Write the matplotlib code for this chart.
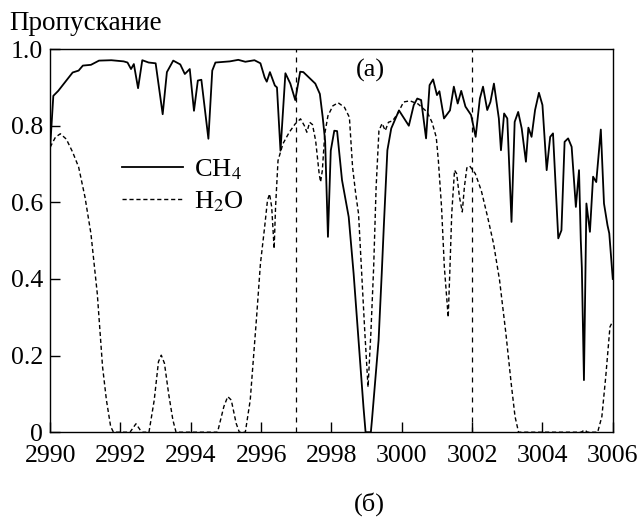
import matplotlib
matplotlib.use("Agg")
import matplotlib.pyplot as plt

plt.rcParams['font.family'] = ['Liberation Serif', 'DejaVu Serif']
plt.rcParams['mathtext.fontset'] = 'stix'

# Transmission spectra (wavenumber, transmission)
ch4_x = [2990.00, 2990.09, 2990.23, 2990.46, 2990.64, 2990.81, 2990.93, 2991.16, 2991.39, 2991.74,
         2992.09, 2992.20, 2992.30, 2992.38, 2992.50, 2992.62, 2992.80, 2993.00, 2993.20, 2993.32,
         2993.50, 2993.70, 2993.83, 2993.97, 2994.09, 2994.20, 2994.30, 2994.50, 2994.61, 2994.70,
         2995.11, 2995.35, 2995.55, 2995.81, 2995.98, 2996.10, 2996.16, 2996.25, 2996.39, 2996.45,
         2996.55, 2996.69, 2996.83, 2996.97, 2997.11, 2997.20, 2997.54, 2997.67, 2997.75, 2997.82,
         2997.90, 2997.98, 2998.08, 2998.16, 2998.30, 2998.49, 2998.63, 2998.77, 2998.91, 2998.97,
         2999.12, 2999.15, 2999.34, 2999.43, 2999.49, 2999.59, 2999.70, 2999.92, 3000.20, 3000.34,
         3000.44, 3000.55, 3000.69, 3000.79, 3000.89, 3001.00, 3001.07, 3001.20, 3001.37, 3001.48,
         3001.59, 3001.69, 3001.81, 3001.97, 3002.10, 3002.22, 3002.31, 3002.43, 3002.52, 3002.62,
         3002.76, 3002.82, 3002.91, 3003.00, 3003.12, 3003.21, 3003.31, 3003.41, 3003.53, 3003.60,
         3003.69, 3003.79, 3003.90, 3004.00, 3004.12, 3004.22, 3004.30, 3004.45, 3004.54, 3004.63,
         3004.73, 3004.83, 3004.95, 3005.04, 3005.09, 3005.12, 3005.18, 3005.25, 3005.35, 3005.44,
         3005.53, 3005.66, 3005.75, 3005.85, 3005.90, 3006.00]
ch4_y = [0.744, 0.878, 0.891, 0.918, 0.939, 0.944, 0.957, 0.959, 0.970, 0.971,
         0.968, 0.965, 0.948, 0.961, 0.898, 0.971, 0.965, 0.963, 0.830, 0.940,
         0.970, 0.960, 0.935, 0.948, 0.839, 0.918, 0.920, 0.766, 0.944, 0.965,
         0.968, 0.972, 0.967, 0.971, 0.963, 0.926, 0.915, 0.940, 0.905, 0.900,
         0.735, 0.937, 0.910, 0.867, 0.941, 0.940, 0.910, 0.883, 0.823, 0.760,
         0.510, 0.735, 0.787, 0.786, 0.658, 0.562, 0.414, 0.240, 0.066, 0.0,
         0.0, 0.030, 0.240, 0.415, 0.540, 0.736, 0.793, 0.840, 0.800, 0.854,
         0.871, 0.867, 0.767, 0.906, 0.921, 0.880, 0.890, 0.819, 0.840, 0.902,
         0.858, 0.891, 0.850, 0.828, 0.771, 0.871, 0.902, 0.841, 0.862, 0.910,
         0.819, 0.736, 0.832, 0.819, 0.549, 0.810, 0.836, 0.793, 0.706, 0.795,
         0.771, 0.841, 0.886, 0.854, 0.684, 0.771, 0.780, 0.506, 0.527, 0.758,
         0.767, 0.745, 0.588, 0.684, 0.501, 0.430, 0.136, 0.597, 0.523, 0.667,
         0.653, 0.790, 0.597, 0.540, 0.519, 0.400]

h2o_x = [2990.00, 2990.15, 2990.29, 2990.46, 2990.64, 2990.81, 2990.99, 2991.16, 2991.34, 2991.49,
         2991.60, 2991.72, 2991.80, 2992.27, 2992.44, 2992.56, 2992.62, 2992.81, 2992.96, 2993.08,
         2993.16, 2993.25, 2993.37, 2993.49, 2993.58, 2994.76, 2994.94, 2995.05, 2995.15, 2995.29,
         2995.38, 2995.55, 2995.69, 2995.87, 2995.98, 2996.10, 2996.18, 2996.24, 2996.30, 2996.37,
         2996.41, 2996.48, 2996.62, 2996.80, 2996.97, 2997.12, 2997.23, 2997.30, 2997.38, 2997.46,
         2997.55, 2997.65, 2997.69, 2997.74, 2997.81, 2997.90, 2998.04, 2998.19, 2998.37, 2998.51,
         2998.60, 2998.69, 2998.77, 2998.85, 2998.95, 2999.04, 2999.12, 2999.20, 2999.27, 2999.35,
         2999.44, 2999.53, 2999.62, 2999.74, 2999.88, 3000.05, 3000.23, 3000.46, 3000.72, 3000.86,
         3000.98, 3001.04, 3001.13, 3001.21, 3001.32, 3001.37, 3001.42, 3001.50, 3001.56, 3001.64,
         3001.72, 3001.78, 3001.85, 3001.93, 3002.09, 3002.26, 3002.44, 3002.61, 3002.78, 3002.96,
         3003.11, 3003.22, 3003.32, 3005.10, 3005.20, 3005.28, 3005.57, 3005.69, 3005.80, 3005.92,
         3006.00]
h2o_y = [0.744, 0.770, 0.779, 0.765, 0.731, 0.692, 0.614, 0.518, 0.362, 0.171,
         0.084, 0.015, 0.0, 0.0, 0.022, 0.006, 0.0, 0.0, 0.084, 0.184,
         0.201, 0.180, 0.100, 0.032, 0.0, 0.0, 0.067, 0.093, 0.084, 0.023,
         0.0, 0.0, 0.084, 0.300, 0.440, 0.536, 0.605, 0.622, 0.588, 0.479,
         0.588, 0.709, 0.753, 0.783, 0.805, 0.818, 0.800, 0.783, 0.809, 0.803,
         0.761, 0.675, 0.653, 0.683, 0.779, 0.826, 0.852, 0.860, 0.848, 0.822,
         0.692, 0.622, 0.570, 0.431, 0.258, 0.118, 0.258, 0.431, 0.640, 0.787,
         0.806, 0.787, 0.809, 0.813, 0.831, 0.862, 0.865, 0.857, 0.836, 0.809,
         0.770, 0.709, 0.588, 0.431, 0.300, 0.431, 0.570, 0.684, 0.675, 0.614,
         0.575, 0.640, 0.690, 0.695, 0.675, 0.631, 0.562, 0.492, 0.397, 0.258,
         0.128, 0.041, 0.0, 0.0, 0.006, 0.0, 0.0, 0.041, 0.145, 0.275,
         0.290]

marker_lines = [2997, 3002]
xticks = [2990, 2992, 2994, 2996, 2998, 3000, 3002, 3004, 3006]
yticks = [0, 0.2, 0.4, 0.6, 0.8, 1.0]
ytick_labels = ['0', '0.2', '0.4', '0.6', '0.8', '1.0']

fig = plt.figure(figsize=(6.43, 5.17), dpi=100)
ax = fig.add_axes([0.078, 0.164, 0.875, 0.741])

ax.plot(ch4_x, ch4_y, color='black', lw=1.3, label=r'CH$_4$')
ax.plot(h2o_x, h2o_y, color='black', lw=1.0, linestyle=(0, (3, 2)), label=r'H$_2$O')

# reference lines
for xv in marker_lines:
    ax.axvline(xv, color='black', lw=0.9, linestyle=(0, (4, 4)))

ax.set_xlim(2990, 3006)
ax.set_ylim(0, 1.0)
ax.set_xticks(xticks)
ax.set_yticks(yticks)
ax.set_yticklabels(ytick_labels)
ax.tick_params(direction='in', length=7, width=1, labelsize=18.5)
ax.tick_params(axis='x', pad=9)
ax.tick_params(axis='y', pad=5)
for sp in ax.spines.values():
    sp.set_linewidth(1.0)

ax.text(2999.1, 0.944, '(а)', fontsize=19, ha='center', va='center')

ax.legend(loc='center left', bbox_to_anchor=(0.127, 0.644), frameon=False,
          fontsize=19, handlelength=2.33, handletextpad=0.4, labelspacing=0.3,
          borderpad=0, borderaxespad=0)

fig.text(0.014, 0.955, 'Пропускание', fontsize=19.5, ha='left', va='center')
fig.text(0.575, 0.025, '(б)', fontsize=19, ha='center', va='center')

fig.savefig('out.png', dpi=100)
